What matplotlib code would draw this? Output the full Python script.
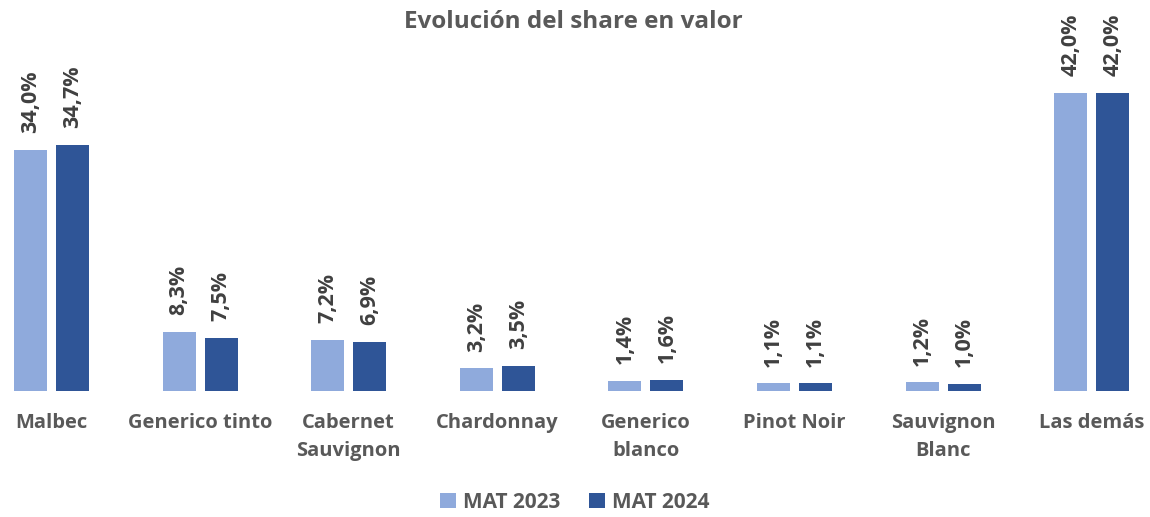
import matplotlib
matplotlib.use("Agg")
import matplotlib.pyplot as plt
from matplotlib.patches import Patch

plt.rcParams['font.family'] = ['Open Sans', 'DejaVu Sans']

categories = ["Malbec", "Generico tinto", "Cabernet\nSauvignon", "Chardonnay",
              "Generico\nblanco", "Pinot Noir", "Sauvignon\nBlanc", "Las demás"]
mat2023 = [34.0, 8.3, 7.2, 3.2, 1.4, 1.1, 1.2, 42.0]
mat2024 = [34.7, 7.5, 6.9, 3.5, 1.6, 1.1, 1.0, 42.0]
series_names = ["MAT 2023", "MAT 2024"]
colors = ["#8FAADC", "#2F5597"]
title = "Evolución del share en valor"

W, H = 1150, 517
fig = plt.figure(figsize=(W / 100, H / 100), dpi=100)
base_px = 391
ppu = 7.1
ymax = 45
ax = fig.add_axes([0, 1 - base_px / H, 1, ymax * ppu / H])
ax.set_ylim(0, ymax)
ax.set_xlim(-51.5 / 148.6, (W - 51.5) / 148.6)

gray = "#595959"
x = list(range(len(categories)))
off = 21 / 148.6
bw = 33 / 148.6
for vals, col, sgn in [(mat2023, colors[0], -1), (mat2024, colors[1], 1)]:
    xs = [i + sgn * off for i in x]
    ax.bar(xs, vals, width=bw, color=col)
    for xi, v in zip(xs, vals):
        ax.annotate(f"{v:.1f}%".replace(".", ","), (xi, v), xytext=(0, 12),
                    textcoords="offset points", rotation=90, ha="center", va="bottom",
                    fontsize=15.5, fontweight="bold", color="#404040")

ax.set_xticks(x)
ax.set_xticklabels(categories, fontsize=14.5, fontweight="bold", color=gray,
                   linespacing=1.55, va="top")
ax.tick_params(axis="x", length=0, pad=16)
ax.set_yticks([])
for s in ax.spines.values():
    s.set_visible(False)

fig.text(0.4985, 1 - 22 / H, title, ha="center", va="center", fontsize=17.5,
         fontweight="bold", color=gray)

handles = [Patch(facecolor=c, label=n) for c, n in zip(colors, series_names)]
fig.legend(handles=handles, loc="center", bbox_to_anchor=(0.5, 1 - 502 / H), ncol=2,
           frameon=False, prop={"size": 15, "weight": "bold"}, labelcolor=gray,
           handlelength=0.75, handleheight=0.75, handletextpad=0.35, columnspacing=1.4)

fig.savefig("out.png", dpi=100)
